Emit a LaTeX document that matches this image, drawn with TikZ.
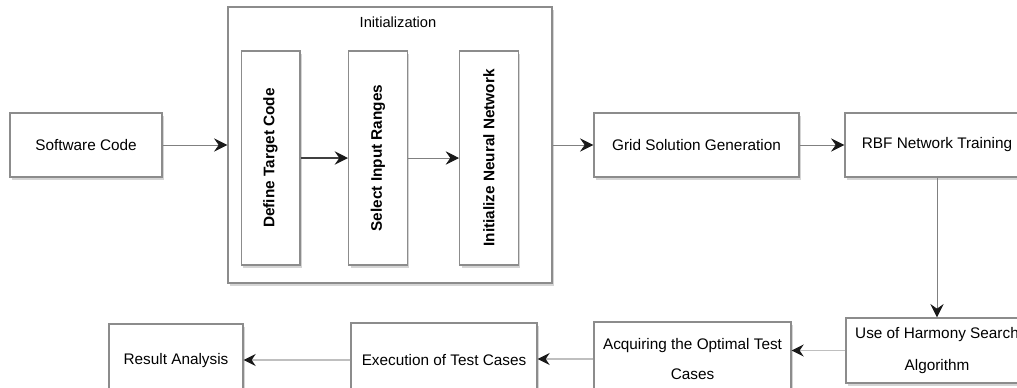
\documentclass[tikz,border=0pt]{standalone}
\usepackage{fontspec}
\setmainfont{Liberation Sans}
\usepackage{graphicx}
\usetikzlibrary{arrows.meta,shadows}

\begin{document}
\begin{tikzpicture}[x=0.75pt,y=-0.75pt,
  box/.style={draw=black!45, line width=1pt, fill=white, inner sep=2pt, align=center,
    drop shadow={shadow xshift=1.5pt, shadow yshift=-2pt, opacity=0.3, fill=black!55},
    font=\fontsize{11.5}{14}\selectfont},
  vbox/.style={box, minimum width=44pt, minimum height=160.5pt,
    font=\fontsize{11.5}{14}\selectfont\bfseries},
  link/.style={draw=black!50, line width=0.6pt,
    -{Stealth[length=10pt,width=10pt,inset=3.5pt,color=black!90]}},
  lowlink/.style={link, draw=black!25, line width=1.2pt,
    -{Stealth[length=9pt,width=9pt,inset=3pt,color=black!90]}}
]
  \useasboundingbox (0,0) rectangle (1017,387);

  % Input and initialization block
  \node[box, minimum width=114pt, minimum height=48pt] (code) at (86,145) {Software Code};
  \node[box, minimum width=243pt, minimum height=207pt] (init) at (390,145) {};
  \node[font=\fontsize{11}{13}\selectfont] (inittitle) at (398,22) {Initialization};
  \node[vbox] (target) at (270.5,158) {\rotatebox{90}{Define Target Code}};
  \node[vbox] (ranges) at (378,158) {\rotatebox{90}{Select Input Ranges}};
  \node[vbox] (network) at (489,158) {\rotatebox{90}{Initialize Neural Network}};

  % Upper row
  \node[box, minimum width=153.75pt, minimum height=48pt] (grid) at (696.5,145) {Grid Solution Generation};
  \node[box, minimum width=138pt, minimum height=48pt] (rbf) at (937,145) {RBF Network Training};

  % Lower row
  \node[box, minimum width=136.5pt, minimum height=48.75pt] (harmony) at (937,350.5)
    {Use of Harmony Search\\[10pt]Algorithm};
  \node[box, minimum width=147.75pt, minimum height=55.5pt] (optimal) at (692.5,359)
    {Acquiring the Optimal Test\\[8.5pt]Cases};
  \node[box, minimum width=139.5pt, minimum height=55.5pt] (execution) at (444,360) {Execution of Test Cases};
  \node[box, minimum width=100.5pt, minimum height=55.5pt] (result) at (176,361) {Result Analysis};

  % Connectors
  \draw[link] (code) -- (init);
  \draw[link, draw=black!75, line width=1.1pt] (target) -- (ranges);
  \draw[link] (ranges) -- (network);
  \draw[link] (init.east |- grid.west) -- (grid);
  \draw[link] (grid) -- (rbf);
  \draw[link] (rbf) -- (harmony);
  \draw[lowlink] (harmony.west) -- (harmony.west -| optimal.east);
  \draw[lowlink] (optimal.west) -- (optimal.west -| execution.east);
  \draw[lowlink] (execution.west) -- (execution.west -| result.east);
\end{tikzpicture}
\end{document}
